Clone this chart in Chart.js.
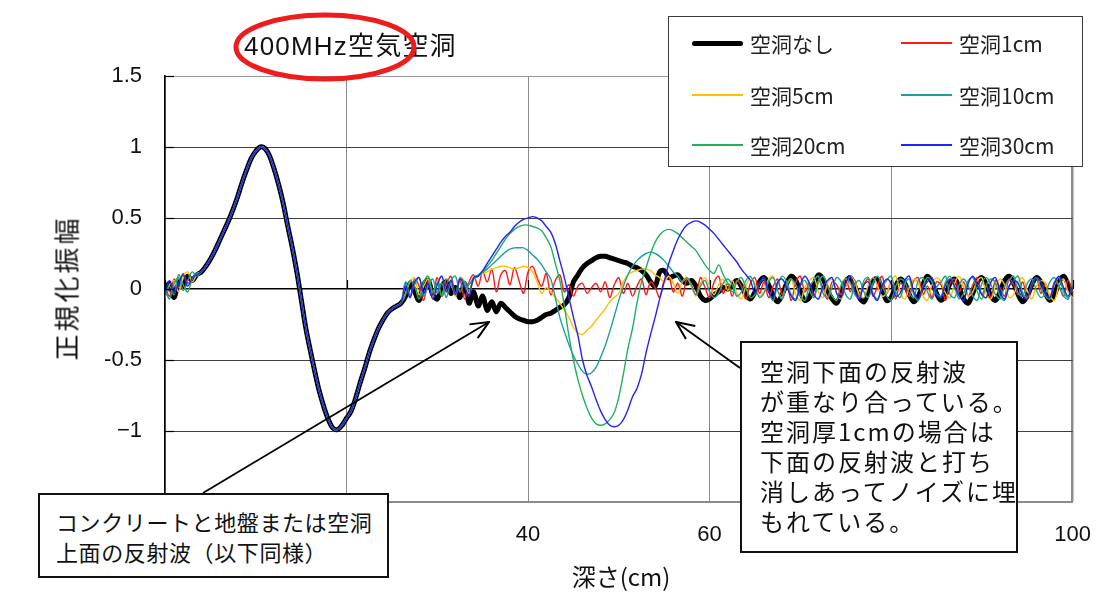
<!DOCTYPE html>
<html><head><meta charset="utf-8">
<script src="https://cdn.jsdelivr.net/npm/chart.js@4.4.1/dist/chart.umd.min.js"></script>
<style>
html,body{margin:0;padding:0;background:#fff;}
#wrap{position:relative;width:1111px;height:593px;overflow:hidden;background:#fff;}
canvas{position:absolute;left:0;top:0;}
.jp{position:absolute;white-space:nowrap;font-family:"Noto Sans CJK JP","Noto Sans",sans-serif;color:#111;}
.box{position:absolute;box-sizing:border-box;background:#fff;}
.lg{position:absolute;}
svg{position:absolute;left:0;top:0;}
</style></head>
<body><div id="wrap">
<canvas id="c" width="1111" height="593"></canvas>
<div class="jp" id="title" style="left:244px;top:31px;font-family:'Liberation Sans','Noto Sans CJK JP',sans-serif;font-size:26px;line-height:30px;letter-spacing:1.2px;">400MHz空気空洞</div>
<div class="jp" style="left:65px;top:288px;font-size:26px;letter-spacing:3px;transform:translate(-50%,-50%) rotate(-90deg);">正規化振幅</div>
<div class="jp" style="left:621px;top:575px;font-size:24px;transform:translate(-50%,-50%);">深さ(cm)</div>
<svg width="1111" height="593">
<defs><marker id="ah" viewBox="0 0 20 20" refX="19" refY="10" markerWidth="20" markerHeight="20" markerUnits="userSpaceOnUse" orient="auto"><path d="M1,2 L19,10 L1,18" fill="none" stroke="#000" stroke-width="2"/></marker></defs>
<line x1="203" y1="493" x2="489" y2="322" stroke="#000" stroke-width="1.8" marker-end="url(#ah)"/>
<line x1="740" y1="368" x2="676" y2="322" stroke="#000" stroke-width="1.8" marker-end="url(#ah)"/>
<ellipse cx="325" cy="47" rx="89" ry="32" fill="none" stroke="#ee1c1c" stroke-width="5"/>
</svg>
<div class="box" style="left:668px;top:16px;width:415px;height:151px;border:1.5px solid #3c3c3c;"></div>
<div id="legendItems"></div>
<div class="box jp" style="left:740px;top:341px;width:278px;height:212px;border:2px solid #111;padding:13px 0 0 18px;font-size:24px;line-height:30px;letter-spacing:2px;">空洞下面の反射波<br>が重なり合っている。<br>空洞厚1cmの場合は<br>下面の反射波と打ち<br>消しあってノイズに埋<br>もれている。</div>
<div class="box jp" style="left:38px;top:493px;width:351px;height:85px;border:2px solid #111;padding:11px 0 0 16px;font-size:22px;line-height:30px;letter-spacing:0.6px;">コンクリートと地盤または空洞<br>上面の反射波（以下同様）</div>
</div>
<script>
// depth (cm) sampling positions
const depthCm = [
0,0.5,1,1.5,2,2.5,3,3.5,4,4.5,5,5.5,6,6.5,7,7.5,8,8.5,9,9.5,
10,10.5,11,11.5,12,12.5,13,13.5,14,14.5,15,15.5,16,16.5,17,17.5,18,18.5,19,19.5,
20,20.5,21,21.5,22,22.5,23,23.5,24,24.5,25,25.5,26,26.5,27,27.5,28,28.5,29,29.5,
30,30.5,31,31.5,32,32.5,33,33.5,34,34.5,35,35.5,36,36.5,37,37.5,38,38.5,39,39.5,
40,40.5,41,41.5,42,42.5,43,43.5,44,44.5,45,45.5,46,46.5,47,47.5,48,48.5,49,49.5,
50,50.5,51,51.5,52,52.5,53,53.5,54,54.5,55,55.5,56,56.5,57,57.5,58,58.5,59,59.5,
60,60.5,61,61.5,62,62.5,63,63.5,64,64.5,65,65.5,66,66.5,67,67.5,68,68.5,69,69.5,
70,70.5,71,71.5,72,72.5,73,73.5,74,74.5,75,75.5,76,76.5,77,77.5,78,78.5,79,79.5,
80,80.5,81,81.5,82,82.5,83,83.5,84,84.5,85,85.5,86,86.5,87,87.5,88,88.5,89,89.5,
90,90.5,91,91.5,92,92.5,93,93.5,94,94.5,95,95.5,96,96.5,97,97.5,98,98.5,99,99.5,
100];

const seriesNames = ['空洞なし','空洞1cm','空洞5cm','空洞10cm','空洞20cm','空洞30cm'];
const yTickLabels = {'1.5':'1.5','1':'1','0.5':'0.5','0':'0','-0.5':'-0.5','-1':'−1','-1.5':'−1.5'};

// x = 0 .. 3.5 (start noise)
const headBlack  = [-.03,.04,-.06,.05,.02,.09,.06,.1];
const headRed    = [.02,-.05,.07,.01,.11,.04,.08,.11];
const headOrange = [-.05,.03,.06,-.02,.09,.12,.05,.1];
const headTeal   = [.01,-.07,.04,.08,-.01,.06,.12,.09];
const headGreen  = [-.06,.02,-.04,.1,.03,-.02,.07,.11];
const headBlue   = [-.04,.06,-.03,.04,.1,.02,.08,.1];

// x = 4 .. 26 (surface reflection, common to all cases)
const sharedPulse = [
.12,.16,.21,.27,.34,.41,.48,.56,.65,.75,
.84,.92,.97,1,.99,.94,.85,.74,.61,.45,
.3,.13,-.07,-.27,-.43,-.58,-.72,-.83,-.92,-.98,
-.99,-.96,-.91,-.86,-.77,-.66,-.56,-.45,-.36,-.28,
-.22,-.17,-.14,-.12,-.1];

// x = 26.5 .. 100
const tailBlack = [
-.05,.04,-.02,-.08,.03,.06,-.04,-.07,.02,.05,-.03,.01,-.06,.04,-.1,-.02,
-.12,-.05,-.15,-.09,-.16,-.1,-.13,-.16,-.19,-.21,
-.22,-.23,-.23,-.22,-.2,-.18,-.17,-.15,-.13,-.11,
-.06,.05,.1,.15,.18,.2,.22,.23,.23,.22,
.21,.2,.19,.18,.16,.15,.13,.1,.05,.02,
.12,.13,.08,.09,.1,.06,.04,.06,.02,-.05,
-.08,-.07,-.04,-.02,.01,0,
.03,.06,.02,-.04,-.07,-.02,.05,.08,.03,-.05,
-.09,-.04,.04,.09,.06,-.02,-.08,-.06,.03,.1,
.07,-.01,-.07,-.1,-.03,.05,.08,.02,-.06,-.09,
-.02,.06,.07,0,-.08,-.06,.02,.07,.04,-.04,
-.09,-.05,.03,.09,.05,-.03,-.08,-.04,.04,.07,
.01,-.07,-.1,-.03,.05,.08,.03,-.05,-.08,-.02,
.06,.09,.04,-.04,-.09,-.05,.03,.08,.05,-.03,
-.08,-.04,.05,.09,.03,-.04];

const tailRed = [
.04,-.06,.07,.02,-.08,.05,-.03,.08,-.05,.03,.09,-.04,.06,-.07,.05,.1,
.02,.12,.05,.14,-.02,.1,.13,.03,.15,.06,
-.03,.12,.16,.08,.02,.11,-.04,.06,.1,-.02,
.03,-.05,.02,.04,-.03,.01,.04,-.02,.05,-.06,
.03,.08,-.03,.04,-.05,.02,.07,-.04,.05,.01,
-.06,.06,.09,-.02,.04,-.05,.07,.02,-.04,.08,
.01,-.06,.05,.09,-.03,.04,
-.05,.06,.02,-.07,.04,.08,-.03,.05,-.06,.02,
.07,-.04,.03,-.08,.05,.09,-.02,.04,-.05,.06,
.01,-.07,.05,.03,-.04,.08,-.02,.06,-.06,.03,
.07,-.05,.02,.09,-.03,.05,-.07,.04,.01,-.05,
.06,.08,-.04,.02,-.06,.05,.03,-.08,.04,.07,
-.02,.05,-.05,.03,.08,-.04,.02,-.06,.06,.01,
-.05,.07,.03,-.04,.05,-.07,.02,.08,-.03,.04,
-.06,.05,.02,-.05,.06,-.02];

const tailOrange = [
-.03,.05,.08,-.04,.02,.07,-.06,.04,.09,-.02,.05,-.05,.08,.03,-.03,.06,
.09,.11,.12,.14,.15,.16,.16,.15,.14,.15,
.16,.15,.12,.05,-.03,.01,-.02,-.06,-.1,-.15,
-.2,-.27,-.31,-.32,-.29,-.26,-.22,-.18,-.14,-.09,
-.06,-.03,.05,.1,.12,.13,.14,.14,.13,.1,
.08,.05,.09,.04,-.03,.05,.08,.02,-.05,.04,
.08,.02,-.04,.03,.07,-.01,
.06,-.03,-.07,.02,.08,.04,-.05,-.02,.07,.09,
-.01,-.06,.03,.07,-.04,-.08,.01,.06,.08,-.02,
-.06,.04,.07,-.03,-.07,.02,.09,.05,-.04,-.06,
.03,.08,.02,-.05,-.03,.06,.09,-.02,-.07,.01,
.07,.04,-.05,-.08,.03,.08,.05,-.03,-.06,.04,
.09,.01,-.05,-.02,.06,.08,-.04,-.07,.02,.07,
.03,-.06,-.04,.05,.08,-.01,-.07,.02,.06,.04,
-.05,-.08,.03,.07,-.02,-.06];

const tailTeal = [
.05,-.04,.03,.08,-.05,.02,.07,-.03,.04,-.06,.06,.09,-.02,.05,.03,.08,
.1,.12,.14,.17,.2,.23,.26,.28,.29,.29,
.29,.27,.24,.21,.17,.12,.07,-.06,-.2,-.3,
-.39,-.47,-.53,-.58,-.6,-.59,-.55,-.48,-.4,-.3,
-.19,-.08,.02,.1,.16,.2,.23,.25,.26,.25,
.23,.2,.16,.12,.09,.05,.08,.03,-.04,.02,
.06,-.02,-.06,-.03,.04,.07,
.03,-.05,-.02,.06,.09,.02,-.06,-.03,.05,.08,
-.01,-.07,.04,.07,.03,-.05,-.08,.02,.06,.09,
-.03,-.06,.01,.08,.05,-.04,-.07,.03,.06,-.02,
-.06,.04,.09,.03,-.05,-.08,.02,.07,.05,-.03,
-.06,.06,.08,-.02,-.07,.01,.05,.09,-.04,-.06,
.03,.07,.02,-.05,-.08,.04,.08,.03,-.04,-.07,
.02,.06,.09,-.03,-.05,.04,.07,-.01,-.06,-.03,
.05,.08,.02,-.05,-.07,.03];

const tailGreen = [
-.04,.06,.02,-.07,.05,.09,-.02,.04,-.05,.07,.03,-.03,.08,.05,-.01,.07,
.09,.12,.16,.2,.25,.3,.35,.39,.42,.44,
.45,.45,.44,.43,.41,.36,.3,.18,.06,-.12,
-.33,-.5,-.64,-.75,-.84,-.91,-.95,-.96,-.95,-.92,
-.87,-.76,-.6,-.42,-.28,-.1,.05,.15,.25,.33,
.38,.41,.42,.41,.39,.36,.33,.3,.27,.22,
.17,.13,.11,.17,.1,.04,
-.02,.05,.08,.01,-.06,-.04,.04,.07,-.02,-.08,
.03,.09,.05,-.04,-.07,.02,.06,-.01,-.06,.05,
.09,.02,-.05,-.08,.03,.07,.04,-.04,-.06,.06,
.08,-.03,-.07,.01,.06,.09,-.02,-.06,.04,.07,
-.04,-.08,.02,.08,.05,-.03,-.05,.05,.09,.01,
-.07,-.03,.06,.08,-.02,-.07,.03,.07,.04,-.05,
-.08,.02,.06,.09,-.03,-.06,.04,.08,.01,-.05,
-.07,.05,.08,-.02,-.06,.03];

const tailBlue = [
.02,-.06,.05,.08,-.03,.04,-.07,.03,.09,-.02,.06,-.04,.07,.02,-.05,.08,
.09,.13,.18,.23,.28,.33,.37,.4,.44,.47,
.49,.5,.51,.5,.48,.44,.4,.32,.2,.08,
-.06,-.2,-.33,-.5,-.61,-.69,-.78,-.86,-.92,-.96,
-.97,-.96,-.92,-.85,-.76,-.7,-.6,-.45,-.32,-.2,
-.07,.05,.18,.27,.35,.41,.45,.47,.48,.47,
.45,.42,.39,.35,.31,.27,
.23,.19,.14,.1,.06,-.03,.04,.08,-.02,-.06,
.05,.07,.01,-.05,-.08,.03,.09,.04,-.04,-.07,
.02,.06,.08,-.03,-.06,.04,.09,-.01,-.07,.03,
.05,-.04,-.08,.02,.07,.04,-.05,-.03,.06,.09,
-.02,-.07,.01,.05,.08,-.04,-.06,.03,.07,.02,
-.05,-.08,.04,.09,.03,-.04,-.06,.05,.08,-.02,
-.07,.02,.06,.04,-.05,-.07,.03,.08,.05,-.03,
-.06,.04,.09,.01,-.05,.02];

const seriesValues = [
  headBlack.concat(sharedPulse, tailBlack),
  headRed.concat(sharedPulse, tailRed),
  headOrange.concat(sharedPulse, tailOrange),
  headTeal.concat(sharedPulse, tailTeal),
  headGreen.concat(sharedPulse, tailGreen),
  headBlue.concat(sharedPulse, tailBlue)
];
const seriesColors = ['#000000','#ff1a1a','#ffc000','#1f9e9e','#22b060','#2222ff'];
const seriesWidths = [5,1.4,1.4,1.4,1.4,1.4];
const seriesOrder  = [6,5,4,3,2,1]; // blue on top, black at bottom

const datasets = seriesNames.map((name,i)=>({
  label:name,
  data: depthCm.map((d,j)=>({x:d, y:seriesValues[i][j]})),
  borderColor: seriesColors[i],
  borderWidth: seriesWidths[i],
  order: seriesOrder[i],
  pointRadius:0,
  fill:false
}));

// legend
const legendPos = [[692,750,43],[901,959,43],[692,750,95],[901,959,95],[692,750,145],[901,959,145]];
const li = document.getElementById('legendItems');
seriesNames.forEach((n,i)=>{
  const [lx,tx,cy] = legendPos[i];
  const h = i===0 ? 5 : 1.5;
  const ln = document.createElement('div');
  ln.className='lg';
  ln.style.cssText = `left:${lx}px;top:${cy-h/2}px;width:51px;height:${h}px;background:${seriesColors[i]};border-radius:${i===0?3:0}px;`;
  li.appendChild(ln);
  const t = document.createElement('div');
  t.className='jp';
  t.style.cssText = `left:${tx}px;top:${cy}px;font-size:21px;line-height:24px;transform:translateY(-50%);color:#222;`;
  t.textContent = n;
  li.appendChild(t);
});

const axisTicks = {
  id:'axisTicks',
  afterDatasetsDraw(chart){
    const {ctx, scales:{x,y}} = chart;
    ctx.save();
    ctx.strokeStyle='#000'; ctx.lineWidth=1.2;
    const y0 = y.getPixelForValue(0);
    x.ticks.forEach(t=>{
      const px = Math.round(x.getPixelForValue(t.value))+0.5;
      ctx.beginPath(); ctx.moveTo(px,y0); ctx.lineTo(px,y0-9); ctx.stroke();
    });
    const x0 = x.getPixelForValue(0);
    y.ticks.forEach(t=>{
      const py = Math.round(y.getPixelForValue(t.value))+0.5;
      ctx.beginPath(); ctx.moveTo(x0,py); ctx.lineTo(x0+9,py); ctx.stroke();
    });
    ctx.restore();
  }
};

new Chart(document.getElementById('c'), {
  type:'line',
  data:{datasets},
  options:{
    responsive:false, animation:false, devicePixelRatio:1,
    layout:{padding:{left:0,top:76,right:35,bottom:0}},
    plugins:{legend:{display:false}, tooltip:{enabled:false}, title:{display:false}},
    elements:{line:{tension:0.35, borderCapStyle:'round', borderJoinStyle:'round'}, point:{radius:0}},
    scales:{
      x:{
        type:'linear', min:0, max:100,
        afterFit(s){ s.height = 91; },
        ticks:{stepSize:20, padding:20, color:'#111', font:{family:'Liberation Sans', size:22}},
        grid:{drawTicks:false, color:'#8c8c8c', lineWidth:c=> (c.tick && c.tick.value===100) ? 2.5 : 1},
        border:{display:true, color:'#8c8c8c', width:2}
      },
      y:{
        min:-1.5, max:1.5,
        afterFit(s){ s.width = 165; },
        ticks:{stepSize:0.5, padding:23, color:'#111', font:{family:'Liberation Sans', size:22},
          callback:v=> yTickLabels[String(Math.round(v*10)/10)] ?? String(v)},
        grid:{drawTicks:false,
          color:c=>{ const v=c.tick?c.tick.value:null; if(v===0) return '#000'; if(v===1.5) return '#999'; return '#404040'; },
          lineWidth:c=> (c.tick && c.tick.value===0) ? 1.5 : 1},
        border:{display:true, color:'#000', width:1.5}
      }
    }
  },
  plugins:[axisTicks]
});
</script>
</body></html>
